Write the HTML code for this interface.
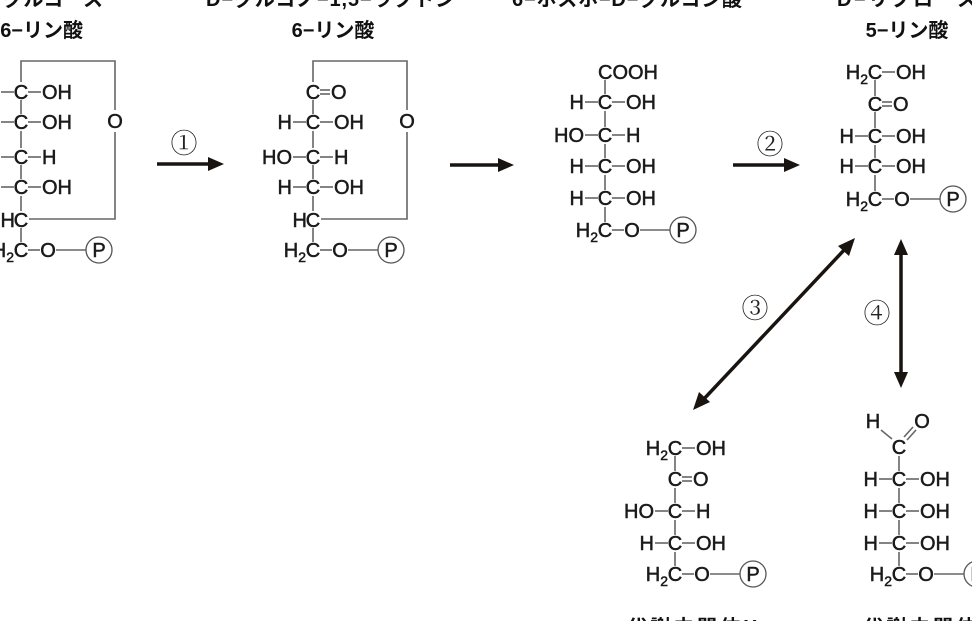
<!DOCTYPE html>
<html><head><meta charset="utf-8"><style>
html,body{margin:0;padding:0;background:#fff;width:972px;height:621px;overflow:hidden}
svg{display:block}
.a{font-family:"Liberation Sans",Arial,sans-serif;font-size:20px;fill:#1a1a1a;stroke:#1a1a1a;stroke-width:0.5}
.m{text-anchor:middle}.e{text-anchor:end}
.b{stroke:#666;stroke-width:1.6;fill:none}
.lbl{font-family:"Liberation Sans","Noto Sans CJK JP",sans-serif;font-size:20px;font-weight:bold;fill:#111}
.num{font-family:"Liberation Serif","Noto Serif CJK SC",serif;font-size:27px;fill:#222}
</style></head><body>
<svg width="972" height="621" viewBox="0 0 972 621" xmlns="http://www.w3.org/2000/svg">
<defs>
<g id="P"><line class="b" x1="35" x2="65" y1="0" y2="0"/><circle cx="78" cy="0" r="13" fill="none" stroke="#555" stroke-width="1.3"/></g>
</defs>

<!-- top labels -->
<text class="lbl e" x="103" y="6" textLength="100">グルコース</text>
<text class="lbl e" x="83" y="37">6−リン酸</text>
<text class="lbl" x="206" y="6" textLength="249">D−グルコノ−1,5−ラクトン</text>
<text class="lbl m" x="333" y="37">6−リン酸</text>
<text class="lbl" x="512" y="6" textLength="230">6−ホスホ−D−グルコン酸</text>
<text class="lbl" x="837" y="6" textLength="140">D−リブロース</text>
<text class="lbl m" x="907" y="37">5−リン酸</text>
<text class="lbl" x="627" y="634" textLength="130">代謝中間体X</text>
<text class="lbl" x="863" y="634" textLength="130">代謝中間体Y</text>

<!-- S1 -->
<g transform="translate(21,0)">
<polyline class="b" points="0,82 0,61 94,61 94,110"/><polyline class="b" points="94,132 94,219 8,219"/>
<text class="a m" x="94" y="128">O</text>
<line class="b" x1="0" x2="0" y1="100" y2="114"/><line class="b" x1="0" x2="0" y1="131" y2="148"/><line class="b" x1="0" x2="0" y1="165" y2="179"/><line class="b" x1="0" x2="0" y1="196" y2="211"/><line class="b" x1="0" x2="0" y1="228" y2="242"/>
<g transform="translate(0,92)"><line class="b" x1="-20" x2="-7"/><text class="a e" x="-21" y="7">H</text><text class="a m" y="7">C</text><line class="b" x1="7" x2="20"/><text class="a" x="21" y="7">OH</text></g>
<g transform="translate(0,122)"><line class="b" x1="-20" x2="-7"/><text class="a e" x="-21" y="7">H</text><text class="a m" y="7">C</text><line class="b" x1="7" x2="20"/><text class="a" x="21" y="7">OH</text></g>
<g transform="translate(0,157)"><line class="b" x1="-20" x2="-7"/><text class="a e" x="-21" y="7">HO</text><text class="a m" y="7">C</text><line class="b" x1="7" x2="20"/><text class="a" x="21" y="7">H</text></g>
<g transform="translate(0,187)"><line class="b" x1="-20" x2="-7"/><text class="a e" x="-21" y="7">H</text><text class="a m" y="7">C</text><line class="b" x1="7" x2="20"/><text class="a" x="21" y="7">OH</text></g>
<g transform="translate(0,220)"><text class="a e" x="-6" y="7">H</text><text class="a m" y="7">C</text></g>
<g transform="translate(0,250)"><text class="a e" x="-7" y="7">H<tspan font-size="14" dy="5">2</tspan></text><text class="a m" y="7">C</text><line class="b" x1="7" x2="19"/><text class="a m" x="27" y="7">O</text><use href="#P"/><text class="a m" x="78" y="7">P</text></g>
</g>

<!-- S2 -->
<g transform="translate(313,0)">
<polyline class="b" points="0,82 0,61 94,61 94,110"/><polyline class="b" points="94,132 94,219 8,219"/>
<text class="a m" x="94" y="128">O</text>
<line class="b" x1="0" x2="0" y1="100" y2="114"/><line class="b" x1="0" x2="0" y1="131" y2="148"/><line class="b" x1="0" x2="0" y1="165" y2="179"/><line class="b" x1="0" x2="0" y1="196" y2="211"/><line class="b" x1="0" x2="0" y1="228" y2="242"/>
<g transform="translate(0,92)"><text class="a m" y="7">C</text><line class="b" x1="7" x2="17" y1="-2" y2="-2"/><line class="b" x1="7" x2="17" y1="2" y2="2"/><text class="a" x="18" y="7">O</text></g>
<g transform="translate(0,122)"><line class="b" x1="-20" x2="-7"/><text class="a e" x="-21" y="7">H</text><text class="a m" y="7">C</text><line class="b" x1="7" x2="20"/><text class="a" x="21" y="7">OH</text></g>
<g transform="translate(0,157)"><line class="b" x1="-20" x2="-7"/><text class="a e" x="-21" y="7">HO</text><text class="a m" y="7">C</text><line class="b" x1="7" x2="20"/><text class="a" x="21" y="7">H</text></g>
<g transform="translate(0,187)"><line class="b" x1="-20" x2="-7"/><text class="a e" x="-21" y="7">H</text><text class="a m" y="7">C</text><line class="b" x1="7" x2="20"/><text class="a" x="21" y="7">OH</text></g>
<g transform="translate(0,220)"><text class="a e" x="-6" y="7">H</text><text class="a m" y="7">C</text></g>
<g transform="translate(0,250)"><text class="a e" x="-7" y="7">H<tspan font-size="14" dy="5">2</tspan></text><text class="a m" y="7">C</text><line class="b" x1="7" x2="19"/><text class="a m" x="27" y="7">O</text><use href="#P"/><text class="a m" x="78" y="7">P</text></g>
</g>

<!-- S3 -->
<g transform="translate(605,0)">
<line class="b" x1="0" x2="0" y1="80" y2="94"/><line class="b" x1="0" x2="0" y1="111" y2="127"/><line class="b" x1="0" x2="0" y1="144" y2="158"/><line class="b" x1="0" x2="0" y1="175" y2="190"/><line class="b" x1="0" x2="0" y1="207" y2="222"/>
<text class="a" x="-7" y="79">COOH</text>
<g transform="translate(0,102)"><line class="b" x1="-20" x2="-7"/><text class="a e" x="-21" y="7">H</text><text class="a m" y="7">C</text><line class="b" x1="7" x2="20"/><text class="a" x="21" y="7">OH</text></g>
<g transform="translate(0,135)"><line class="b" x1="-20" x2="-7"/><text class="a e" x="-21" y="7">HO</text><text class="a m" y="7">C</text><line class="b" x1="7" x2="20"/><text class="a" x="21" y="7">H</text></g>
<g transform="translate(0,166)"><line class="b" x1="-20" x2="-7"/><text class="a e" x="-21" y="7">H</text><text class="a m" y="7">C</text><line class="b" x1="7" x2="20"/><text class="a" x="21" y="7">OH</text></g>
<g transform="translate(0,198)"><line class="b" x1="-20" x2="-7"/><text class="a e" x="-21" y="7">H</text><text class="a m" y="7">C</text><line class="b" x1="7" x2="20"/><text class="a" x="21" y="7">OH</text></g>
<g transform="translate(0,230)"><text class="a e" x="-7" y="7">H<tspan font-size="14" dy="5">2</tspan></text><text class="a m" y="7">C</text><line class="b" x1="7" x2="19"/><text class="a m" x="27" y="7">O</text><use href="#P"/><text class="a m" x="78" y="7">P</text></g>
</g>

<!-- S4 -->
<g transform="translate(875,0)">
<line class="b" x1="0" x2="0" y1="80" y2="96"/><line class="b" x1="0" x2="0" y1="112" y2="128"/><line class="b" x1="0" x2="0" y1="145" y2="158"/><line class="b" x1="0" x2="0" y1="175" y2="191"/>
<g transform="translate(0,72)"><text class="a e" x="-7" y="7">H<tspan font-size="14" dy="5">2</tspan></text><text class="a m" y="7">C</text><line class="b" x1="7" x2="20"/><text class="a" x="21" y="7">OH</text></g>
<g transform="translate(0,104)"><text class="a m" y="7">C</text><line class="b" x1="7" x2="17" y1="-2" y2="-2"/><line class="b" x1="7" x2="17" y1="2" y2="2"/><text class="a" x="18" y="7">O</text></g>
<g transform="translate(0,136)"><line class="b" x1="-20" x2="-7"/><text class="a e" x="-21" y="7">H</text><text class="a m" y="7">C</text><line class="b" x1="7" x2="20"/><text class="a" x="21" y="7">OH</text></g>
<g transform="translate(0,166)"><line class="b" x1="-20" x2="-7"/><text class="a e" x="-21" y="7">H</text><text class="a m" y="7">C</text><line class="b" x1="7" x2="20"/><text class="a" x="21" y="7">OH</text></g>
<g transform="translate(0,199)"><text class="a e" x="-7" y="7">H<tspan font-size="14" dy="5">2</tspan></text><text class="a m" y="7">C</text><line class="b" x1="7" x2="19"/><text class="a m" x="27" y="7">O</text><use href="#P"/><text class="a m" x="78" y="7">P</text></g>
</g>

<!-- SX -->
<g transform="translate(675,0)">
<line class="b" x1="0" x2="0" y1="456" y2="471"/><line class="b" x1="0" x2="0" y1="488" y2="503"/><line class="b" x1="0" x2="0" y1="520" y2="535"/><line class="b" x1="0" x2="0" y1="552" y2="566"/>
<g transform="translate(0,448)"><text class="a e" x="-7" y="7">H<tspan font-size="14" dy="5">2</tspan></text><text class="a m" y="7">C</text><line class="b" x1="7" x2="20"/><text class="a" x="21" y="7">OH</text></g>
<g transform="translate(0,479)"><text class="a m" y="7">C</text><line class="b" x1="7" x2="17" y1="-2" y2="-2"/><line class="b" x1="7" x2="17" y1="2" y2="2"/><text class="a" x="18" y="7">O</text></g>
<g transform="translate(0,511)"><line class="b" x1="-20" x2="-7"/><text class="a e" x="-21" y="7">HO</text><text class="a m" y="7">C</text><line class="b" x1="7" x2="20"/><text class="a" x="21" y="7">H</text></g>
<g transform="translate(0,543)"><line class="b" x1="-20" x2="-7"/><text class="a e" x="-21" y="7">H</text><text class="a m" y="7">C</text><line class="b" x1="7" x2="20"/><text class="a" x="21" y="7">OH</text></g>
<g transform="translate(0,574)"><text class="a e" x="-7" y="7">H<tspan font-size="14" dy="5">2</tspan></text><text class="a m" y="7">C</text><line class="b" x1="7" x2="19"/><text class="a m" x="27" y="7">O</text><use href="#P"/><text class="a m" x="78" y="7">P</text></g>
</g>

<!-- SY -->
<g transform="translate(899,0)">
<text class="a m" x="-26" y="428">H</text><text class="a m" x="23" y="428">O</text>
<line class="b" x1="-18" y1="430" x2="-7" y2="439"/>
<line class="b" x1="5" y1="437" x2="14" y2="427"/><line class="b" x1="8" y1="440" x2="17" y2="430"/>
<text class="a m" y="454">C</text>
<line class="b" x1="0" x2="0" y1="456" y2="471"/><line class="b" x1="0" x2="0" y1="488" y2="503"/><line class="b" x1="0" x2="0" y1="520" y2="535"/><line class="b" x1="0" x2="0" y1="552" y2="566"/>
<g transform="translate(0,479)"><line class="b" x1="-20" x2="-7"/><text class="a e" x="-21" y="7">H</text><text class="a m" y="7">C</text><line class="b" x1="7" x2="20"/><text class="a" x="21" y="7">OH</text></g>
<g transform="translate(0,511)"><line class="b" x1="-20" x2="-7"/><text class="a e" x="-21" y="7">H</text><text class="a m" y="7">C</text><line class="b" x1="7" x2="20"/><text class="a" x="21" y="7">OH</text></g>
<g transform="translate(0,543)"><line class="b" x1="-20" x2="-7"/><text class="a e" x="-21" y="7">H</text><text class="a m" y="7">C</text><line class="b" x1="7" x2="20"/><text class="a" x="21" y="7">OH</text></g>
<g transform="translate(0,574)"><text class="a e" x="-7" y="7">H<tspan font-size="14" dy="5">2</tspan></text><text class="a m" y="7">C</text><line class="b" x1="7" x2="19"/><text class="a m" x="27" y="7">O</text><use href="#P"/><text class="a m" x="78" y="7">P</text></g>
</g>

<!-- arrows -->
<g fill="#1a1410" stroke="#1a1410">
<line x1="157" y1="164" x2="210" y2="164" stroke-width="3.5"/><polygon stroke="none" points="224,164 208,157 208,171"/>
<line x1="450" y1="165" x2="500" y2="165" stroke-width="3.5"/><polygon stroke="none" points="514,165 498,158 498,172"/>
<line x1="733" y1="165" x2="786" y2="165" stroke-width="3.5"/><polygon stroke="none" points="800,165 784,158 784,172"/>
<line x1="846" y1="248" x2="702" y2="401" stroke-width="3.5"/>
<polygon stroke="none" points="855,238 838,246 849,256"/>
<polygon stroke="none" points="693,410 699,392 710,402"/>
<line x1="901" y1="250" x2="901" y2="377" stroke-width="3.5"/>
<polygon stroke="none" points="901,239 894,255 908,255"/>
<polygon stroke="none" points="901,388 894,372 908,372"/>
</g>
<text class="num m" x="184" y="153">①</text>
<text class="num m" x="770" y="154">②</text>
<text class="num m" x="755" y="318">③</text>
<text class="num m" x="877" y="323">④</text>
</svg>
</body></html>
